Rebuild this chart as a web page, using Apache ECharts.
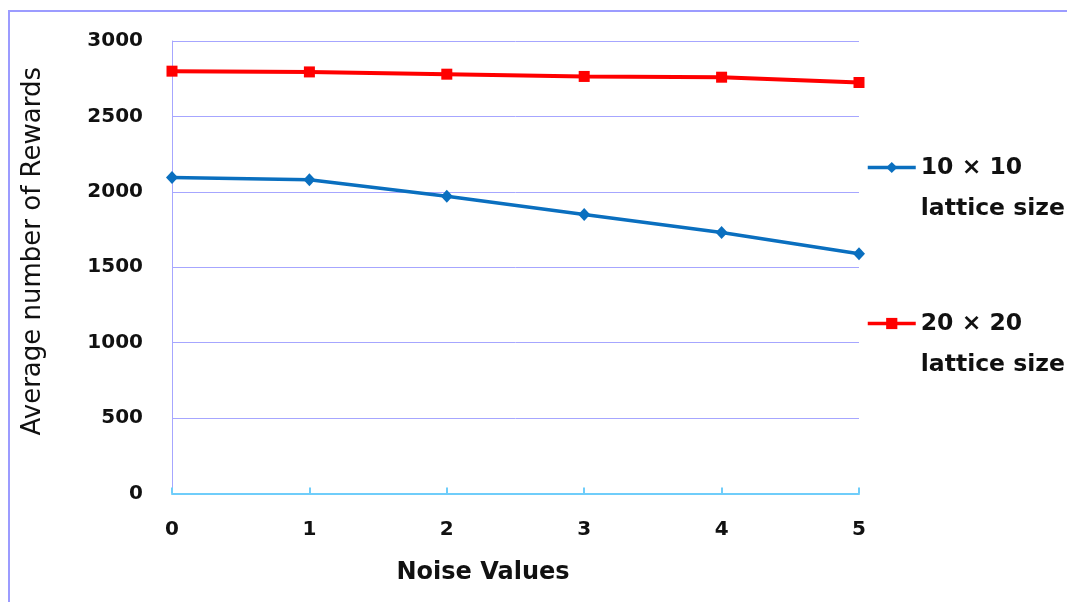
<!DOCTYPE html>
<html>
<head>
<meta charset="utf-8">
<script src="https://cdn.jsdelivr.net/npm/echarts@6/dist/echarts.min.js"></script>
<style>
  html, body { margin: 0; padding: 0; background: #ffffff; }
  #chart { width: 1067px; height: 602px; }
</style>
</head>
<body>
<div id="chart"></div>
<script>
// Noise levels on the x axis
const noiseValues = ['0', '1', '2', '3', '4', '5'];
// Average rewards for each lattice size
const lattice10 = [2095, 2080, 1970, 1850, 1730, 1590];
const lattice20 = [2800, 2795, 2780, 2765, 2760, 2725];
const seriesNames = ['10 × 10', '20 × 20'];
const legendSubtitle = 'lattice size';
const yTicks = { min: 0, max: 3000, interval: 500 };

const gridColor = '#a6a6ff';
const FONT = 'DejaVu Sans';

const chart = echarts.init(document.getElementById('chart'), null, { renderer: 'canvas' });

chart.setOption({
  backgroundColor: '#ffffff',
  animation: false,
  graphic: [{
    type: 'rect',
    shape: { x: 9, y: 11, width: 1120, height: 700 },
    style: { fill: 'none', stroke: '#9c9cff', lineWidth: 2 },
    silent: true,
    z: 0
  }],
  grid: { left: 172, right: 208, top: 41, bottom: 108.5 },
  legend: {
    orient: 'vertical',
    left: 866,
    top: 106,
    padding: 0,
    itemGap: 33,
    itemWidth: 48,
    itemHeight: 14,
    data: seriesNames,
    lineStyle: { width: 3.5 },
    // a blank first line keeps the legend icon level with the series name
    formatter: name => ' \n' + name + '\n' + legendSubtitle,
    textStyle: {
      fontFamily: FONT,
      fontWeight: 'bold',
      fontSize: 23.5,
      lineHeight: 41,
      color: '#111111'
    }
  },
  xAxis: {
    type: 'category',
    data: noiseValues,
    boundaryGap: false,
    name: 'Noise Values',
    nameLocation: 'middle',
    nameGap: 67,
    nameTextStyle: {
      fontFamily: FONT, fontWeight: 'bold', fontSize: 24, color: '#111111',
      padding: [0, 65, 0, 0]
    },
    axisLine: { show: true, lineStyle: { color: '#6fcdfa', width: 2 } },
    axisTick: { show: true, inside: true, length: 6, lineStyle: { color: '#6fcdfa', width: 2 } },
    axisLabel: { margin: 26, fontFamily: FONT, fontWeight: 'bold', fontSize: 20, color: '#111111' },
    splitLine: { show: false }
  },
  yAxis: {
    type: 'value',
    min: yTicks.min,
    max: yTicks.max,
    interval: yTicks.interval,
    name: 'Average number of Rewards',
    nameLocation: 'middle',
    nameGap: 126,
    nameTextStyle: {
      fontFamily: FONT, fontSize: 26, color: '#111111',
      padding: [0, 0, 0, 32]
    },
    axisLine: { show: true, lineStyle: { color: gridColor, width: 1 } },
    axisTick: { show: false },
    axisLabel: {
      margin: 29, fontFamily: FONT, fontWeight: 'bold', fontSize: 20, color: '#111111',
      formatter: v => String(v)
    },
    splitLine: { show: true, lineStyle: { color: gridColor, width: 1 } }
  },
  series: [
    {
      name: seriesNames[0],
      type: 'line',
      data: lattice10,
      symbol: 'diamond',
      symbolSize: [12, 13],
      lineStyle: { color: '#0a6fbf', width: 3.5 },
      itemStyle: { color: '#0a6fbf' },
      z: 3
    },
    {
      name: seriesNames[1],
      type: 'line',
      data: lattice20,
      symbol: 'rect',
      symbolSize: 11,
      lineStyle: { color: '#ff0000', width: 4 },
      itemStyle: { color: '#ff0000' },
      z: 3
    }
  ]
});
</script>
</body>
</html>
